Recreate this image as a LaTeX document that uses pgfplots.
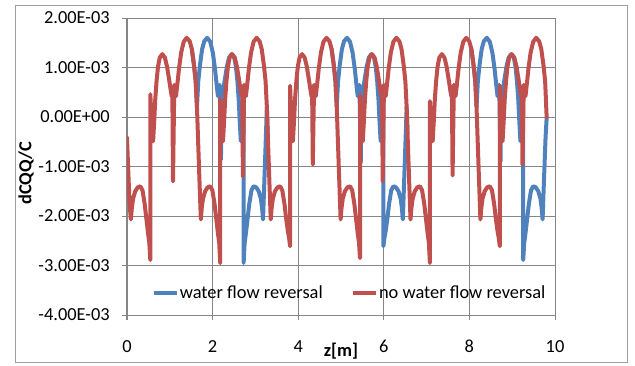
\documentclass[border=0pt]{standalone}
\usepackage{fontspec}
\setmainfont{Carlito}
\usepackage{pgfplots}
\pgfplotsset{compat=1.18}
\usepackage{pgfplotstable}
\definecolor{exBlue}{RGB}{79,129,189}
\definecolor{exRed}{RGB}{192,80,77}
\definecolor{gridc}{RGB}{134,134,134}
\definecolor{framec}{RGB}{160,160,160}
% values v in units of 1E-03
\pgfplotstableread{
z v
0.000 -0.42
0.030 -1.10
0.060 -1.75
0.090 -2.07
0.112 -1.85
0.142 -1.65
0.192 -1.50
0.252 -1.42
0.312 -1.40
0.362 -1.48
0.412 -1.75
0.452 -2.05
0.492 -2.35
0.522 -2.55
0.545 -2.89
0.545 0.46
0.575 -0.05
0.610 -0.49
0.635 -0.10
0.660 0.35
0.690 0.72
0.725 1.02
0.765 1.20
0.825 1.27
0.885 1.20
0.935 1.02
0.985 0.75
1.025 0.52
1.045 0.42
1.060 0.45
1.075 -1.30
1.105 0.65
1.125 0.52
1.145 0.42
1.175 0.65
1.215 0.98
1.265 1.30
1.325 1.52
1.395 1.60
1.465 1.53
1.515 1.37
1.565 1.05
1.605 0.72
1.635 0.20
1.655 -0.32
1.695 -1.33
1.725 -2.07
1.745 -1.85
1.775 -1.65
1.825 -1.50
1.885 -1.42
1.945 -1.40
1.995 -1.48
2.045 -1.75
2.085 -2.05
2.125 -2.35
2.155 -2.55
2.178 -2.95
2.178 0.36
2.208 -0.05
2.243 -0.49
2.268 -0.10
2.293 0.35
2.323 0.72
2.358 1.02
2.398 1.20
2.458 1.27
2.518 1.20
2.568 1.02
2.618 0.75
2.658 0.52
2.678 0.42
2.693 0.45
2.708 -1.20
2.738 0.65
2.758 0.52
2.778 0.42
2.808 0.65
2.848 0.98
2.898 1.30
2.958 1.52
3.028 1.60
3.098 1.53
3.148 1.37
3.198 1.05
3.238 0.72
3.268 0.20
3.288 -0.32
3.328 -1.33
3.358 -2.07
3.378 -1.85
3.408 -1.65
3.458 -1.50
3.518 -1.42
3.578 -1.40
3.628 -1.48
3.678 -1.75
3.718 -2.05
3.758 -2.30
3.788 -2.45
3.811 -2.61
3.811 0.63
3.841 -0.05
3.876 -0.49
3.901 -0.10
3.926 0.35
3.956 0.72
3.991 1.02
4.031 1.20
4.091 1.27
4.151 1.20
4.201 1.02
4.251 0.75
4.291 0.52
4.311 0.42
4.326 0.45
4.341 -0.96
4.371 0.65
4.391 0.52
4.411 0.42
4.441 0.65
4.481 0.98
4.531 1.30
4.591 1.52
4.661 1.60
4.731 1.53
4.781 1.37
4.831 1.05
4.871 0.72
4.901 0.20
4.921 -0.32
4.961 -1.33
4.991 -2.07
5.011 -1.85
5.041 -1.65
5.091 -1.50
5.151 -1.42
5.211 -1.40
5.261 -1.48
5.311 -1.75
5.351 -2.05
5.391 -2.35
5.421 -2.55
5.444 -2.85
5.444 0.43
5.474 -0.05
5.509 -0.49
5.534 -0.10
5.559 0.35
5.589 0.72
5.624 1.02
5.664 1.20
5.724 1.27
5.784 1.20
5.834 1.02
5.884 0.75
5.924 0.52
5.944 0.42
5.959 0.45
5.974 -1.30
6.004 0.65
6.024 0.52
6.044 0.42
6.074 0.65
6.114 0.98
6.164 1.30
6.224 1.52
6.294 1.60
6.364 1.53
6.414 1.37
6.464 1.05
6.504 0.72
6.534 0.20
6.554 -0.32
6.594 -1.33
6.624 -2.07
6.644 -1.85
6.674 -1.65
6.724 -1.50
6.784 -1.42
6.844 -1.40
6.894 -1.48
6.944 -1.75
6.984 -2.05
7.024 -2.35
7.054 -2.55
7.077 -2.95
7.077 0.32
7.107 -0.05
7.142 -0.49
7.167 -0.10
7.192 0.35
7.222 0.72
7.257 1.02
7.297 1.20
7.357 1.27
7.417 1.20
7.467 1.02
7.517 0.75
7.557 0.52
7.577 0.42
7.592 0.45
7.607 -1.18
7.637 0.65
7.657 0.52
7.677 0.42
7.707 0.65
7.747 0.98
7.797 1.30
7.857 1.52
7.927 1.60
7.997 1.53
8.047 1.37
8.097 1.05
8.137 0.72
8.167 0.20
8.187 -0.32
8.227 -1.33
8.257 -2.07
8.277 -1.85
8.307 -1.65
8.357 -1.50
8.417 -1.42
8.477 -1.40
8.527 -1.48
8.577 -1.75
8.617 -2.05
8.657 -2.30
8.687 -2.45
8.710 -2.61
8.710 0.63
8.740 -0.05
8.775 -0.49
8.800 -0.10
8.825 0.35
8.855 0.72
8.890 1.02
8.930 1.20
8.990 1.27
9.050 1.20
9.100 1.02
9.150 0.75
9.190 0.52
9.210 0.42
9.225 0.45
9.240 -0.96
9.270 0.65
9.290 0.52
9.310 0.42
9.340 0.65
9.380 0.98
9.430 1.30
9.490 1.52
9.560 1.60
9.630 1.53
9.680 1.37
9.730 1.05
9.770 0.72
9.795 0.20
9.805 0.00
}\redtab
\pgfplotstableread{
z v
1.515 1.37
1.565 1.05
1.605 0.72
1.635 0.20
1.665 0.72
1.705 1.05
1.755 1.37
1.805 1.53
1.875 1.60
1.945 1.52
2.005 1.30
2.055 0.98
2.095 0.65
2.125 0.42
2.145 0.52
2.165 0.65
2.195 -0.86
2.210 0.45
2.225 0.42
2.245 0.52
2.285 0.75
2.335 1.02
2.385 1.20
2.445 1.27
2.505 1.20
2.545 1.02
2.580 0.72
2.610 0.35
2.635 -0.10
2.660 -0.49
2.695 -0.05
2.725 0.46
2.725 -2.95
2.748 -2.55
2.778 -2.35
2.818 -2.05
2.858 -1.75
2.908 -1.48
2.958 -1.40
3.018 -1.42
3.078 -1.50
3.128 -1.65
3.158 -1.85
3.178 -2.07
3.208 -1.33
3.248 -0.32
3.268 0.20
3.288 -0.32
}\bluetabA
\pgfplotstableread{
z v
4.781 1.37
4.831 1.05
4.871 0.72
4.901 0.20
4.931 0.72
4.971 1.05
5.021 1.37
5.071 1.53
5.141 1.60
5.211 1.52
5.271 1.30
5.321 0.98
5.361 0.65
5.391 0.42
5.411 0.52
5.431 0.65
5.461 -0.93
5.476 0.45
5.491 0.42
5.511 0.52
5.551 0.75
5.601 1.02
5.651 1.20
5.711 1.27
5.771 1.20
5.811 1.02
5.846 0.72
5.876 0.35
5.901 -0.10
5.926 -0.49
5.961 -0.05
5.991 0.63
5.991 -2.61
6.014 -2.45
6.044 -2.30
6.084 -2.05
6.124 -1.75
6.174 -1.48
6.224 -1.40
6.284 -1.42
6.344 -1.50
6.394 -1.65
6.424 -1.85
6.444 -2.07
6.474 -1.33
6.514 -0.32
6.534 0.20
6.554 -0.32
}\bluetabB
\pgfplotstableread{
z v
8.047 1.37
8.097 1.05
8.137 0.72
8.167 0.20
8.197 0.72
8.237 1.05
8.287 1.37
8.337 1.53
8.407 1.60
8.477 1.52
8.537 1.30
8.587 0.98
8.627 0.65
8.657 0.42
8.677 0.52
8.697 0.65
8.727 -0.90
8.742 0.45
8.757 0.42
8.777 0.52
8.817 0.75
8.867 1.02
8.917 1.20
8.977 1.27
9.037 1.20
9.077 1.02
9.112 0.72
9.142 0.35
9.167 -0.10
9.192 -0.49
9.227 -0.05
9.257 0.32
9.257 -2.89
9.280 -2.55
9.310 -2.35
9.350 -2.05
9.390 -1.75
9.440 -1.48
9.490 -1.40
9.550 -1.42
9.610 -1.50
9.660 -1.65
9.690 -1.85
9.710 -2.07
9.740 -1.33
9.780 -0.40
9.805 -0.02
}\bluetabC
\begin{document}
\begin{tikzpicture}
\draw[framec, line width=0.75pt] (15*0.75pt,359*0.75pt) rectangle (627*0.75pt,3*0.75pt);
\begin{axis}[
  at={(95.25pt,37.5pt)}, anchor=south west,
  width=321pt, height=222.75pt, scale only axis,
  xmin=0, xmax=10, ymin=-0.004, ymax=0.002,
  y filter/.expression={y*0.001},
  xtick={0,2,4,6,8,10}, xticklabels={0,2,4,6,8,10},
  ytick={-0.004,-0.003,-0.002,-0.001,0,0.001,0.002},
  yticklabels={-4.00E-03,-3.00E-03,-2.00E-03,-1.00E-03,0.00E+00,1.00E-03,2.00E-03},
  scaled y ticks=false, scaled x ticks=false,
  axis lines=left, axis line style={-, gridc, line width=0.75pt},
  grid=major, major grid style={gridc, line width=0.75pt},
  tick align=outside, major tick length=3.75pt,
  tick style={gridc, line width=0.75pt},
  tick label style={font=\fontsize{13.8}{16}\selectfont, text=black},
  yticklabel style={anchor=east, inner sep=0pt, xshift=-9pt},
  xticklabel style={anchor=north, inner sep=0pt, yshift=-15pt},
  every axis x label/.style={at={(axis description cs:0.5,0)}, anchor=center, yshift=-27pt, font=\fontsize{13.8}{16}\selectfont\bfseries},
  every axis y label/.style={at={(axis description cs:-0.236,0.478)}, rotate=90, anchor=center, font=\fontsize{13.8}{16}\selectfont\bfseries},
  xlabel={z[m]}, ylabel={dCQQ/C},
  legend columns=2,
  legend style={at={(axis description cs:0.519,0.074)}, anchor=center, draw=none, fill=none, inner sep=0pt,
    font=\fontsize{13.8}{16}\selectfont, nodes={inner sep=1pt},
    /tikz/every even column/.append style={column sep=20pt}},
  legend image code/.code={\draw[#1, line width=3pt, line cap=butt] (0pt,0pt) -- (17.25pt,0pt);},
]
\addplot[exBlue, line width=3pt, line join=round, line cap=round] table[x=z, y=v] {\bluetabA};
\addlegendentry{water flow reversal}
\addplot[exBlue, line width=3pt, line join=round, line cap=round, forget plot] table[x=z, y=v] {\bluetabB};
\addplot[exBlue, line width=3pt, line join=round, line cap=round, forget plot] table[x=z, y=v] {\bluetabC};
\addplot[exRed, line width=3pt, line join=round, line cap=round] table[x=z, y=v] {\redtab};
\addlegendentry{no water flow reversal}
\end{axis}
\pgfresetboundingbox
\useasboundingbox (0,0) rectangle (476.25pt,273.75pt);
\end{tikzpicture}
\end{document}
